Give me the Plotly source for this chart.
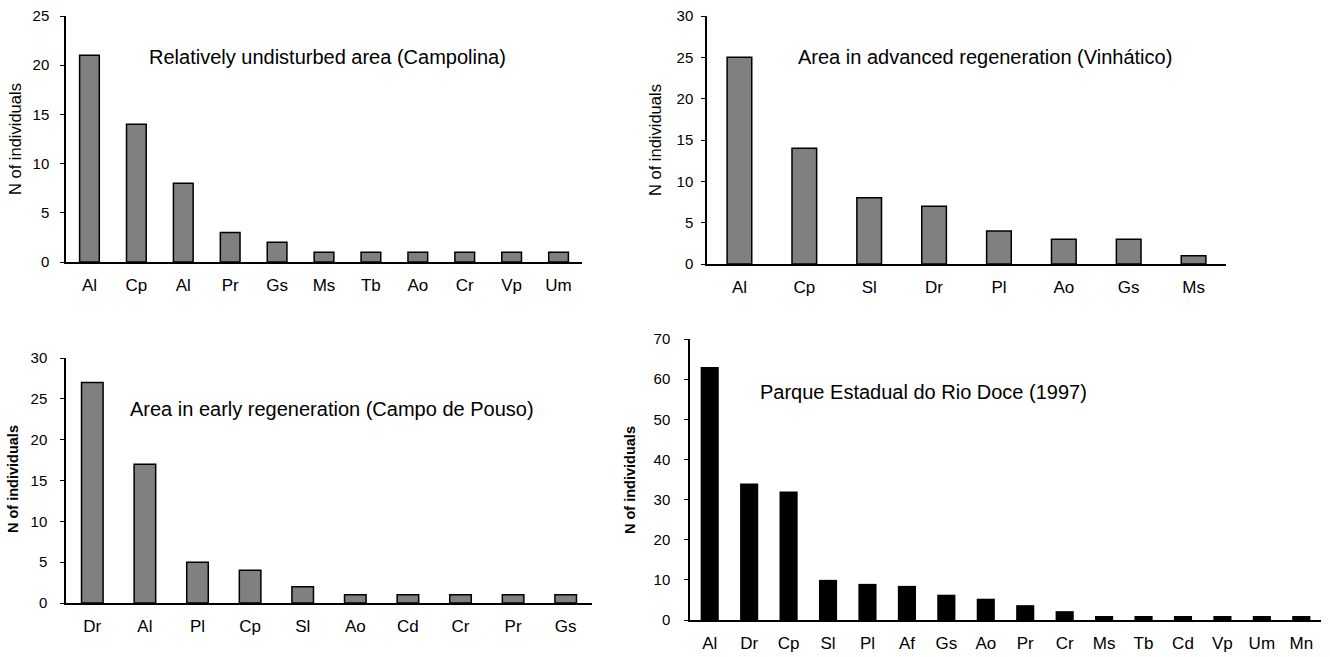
import plotly.graph_objects as go

# ---------------- data ----------------
p1_title = "Relatively undisturbed area (Campolina)"
p1_cats = ["Al", "Cp", "Al", "Pr", "Gs", "Ms", "Tb", "Ao", "Cr", "Vp", "Um"]
p1_vals = [21, 14, 8, 3, 2, 1, 1, 1, 1, 1, 1]

p2_title = "Area in advanced regeneration (Vinhático)"
p2_cats = ["Al", "Cp", "Sl", "Dr", "Pl", "Ao", "Gs", "Ms"]
p2_vals = [25, 14, 8, 7, 4, 3, 3, 1]

p3_title = "Area in early regeneration (Campo de Pouso)"
p3_cats = ["Dr", "Al", "Pl", "Cp", "Sl", "Ao", "Cd", "Cr", "Pr", "Gs"]
p3_vals = [27, 17, 5, 4, 2, 1, 1, 1, 1, 1]

p4_title = "Parque Estadual do Rio Doce (1997)"
p4_cats = ["Al", "Dr", "Cp", "Sl", "Pl", "Af", "Gs", "Ao", "Pr", "Cr", "Ms", "Tb", "Cd", "Vp", "Um", "Mn"]
p4_vals = [63, 34, 32, 10, 9, 8.5, 6.3, 5.3, 3.7, 2.2, 1, 1, 1, 1, 1, 1]

y_label = "N of individuals"

# ---------------- layout helpers ----------------
W, H = 1330, 657
def px(x):
    return x / W
def py(y):
    return 1 - y / H

NARROW = "Liberation Sans Narrow, Arial Narrow, Liberation Sans, Arial, sans-serif"
SANS = "Liberation Sans, Arial, sans-serif"

panels = [
    dict(c=p1_cats, v=p1_vals, t=p1_title, xs=(66, 582), ys=(16, 262), ymax=25, dt=5,
         col="#808080", w=0.42, tc=(327, 57), lc=(15, 139), bold=False, so=8),
    dict(c=p2_cats, v=p2_vals, t=p2_title, xs=(707, 1226), ys=(16, 264), ymax=30, dt=5,
         col="#808080", w=0.38, tc=(985, 57), lc=(655, 140), bold=False, so=5),
    dict(c=p3_cats, v=p3_vals, t=p3_title, xs=(66, 592), ys=(358, 603), ymax=30, dt=5,
         col="#808080", w=0.41, tc=(332, 409), lc=(13, 479), bold=True, so=10),
    dict(c=p4_cats, v=p4_vals, t=p4_title, xs=(690, 1321), ys=(339, 620), ymax=70, dt=10,
         col="#000000", w=0.46, tc=(923, 392), lc=(630, 480), bold=True, so=11),
]

fig = go.Figure()
annotations = []
for i, p in enumerate(panels, start=1):
    xa = "x" if i == 1 else f"x{i}"
    ya = "y" if i == 1 else f"y{i}"
    n = len(p["c"])
    idx = list(range(n))
    fig.add_trace(go.Bar(
        x=idx, y=p["v"], xaxis=xa, yaxis=ya, width=p["w"],
        marker=dict(color=p["col"],
                    line=dict(color="#000000", width=1.5 if p["col"] != "#000000" else 0)),
        showlegend=False, hoverinfo="x+y",
    ))
    xkey = "xaxis" if i == 1 else f"xaxis{i}"
    ykey = "yaxis" if i == 1 else f"yaxis{i}"
    fig.update_layout(**{
        xkey: dict(domain=[px(p["xs"][0]), px(p["xs"][1])], anchor=ya, automargin=False,
                   range=[-0.5, n - 0.5], tickmode="array", tickvals=idx, ticktext=p["c"],
                   showline=True, linecolor="black", linewidth=1.5, ticks="",
                   showgrid=False, zeroline=False, ticklabelstandoff=7,
                   tickfont=dict(family=NARROW, size=17, color="black")),
        ykey: dict(domain=[py(p["ys"][1]), py(p["ys"][0])], anchor=xa, automargin=False,
                   range=[0, p["ymax"]], dtick=p["dt"], tick0=0,
                   showline=True, linecolor="black", linewidth=1.5,
                   ticks="outside", ticklen=4, tickwidth=1.2, tickcolor="black",
                   showgrid=False, zeroline=False, ticklabelstandoff=p["so"],
                   tickfont=dict(family=NARROW, size=15, color="black")),
    })
    annotations.append(dict(
        text=p["t"], xref="paper", yref="paper", x=px(p["tc"][0]), y=py(p["tc"][1]),
        xanchor="center", yanchor="middle", showarrow=False,
        font=dict(family=SANS, size=20, color="black"),
    ))
    lab = f"<b>{y_label}</b>" if p["bold"] else y_label
    annotations.append(dict(
        text=lab, xref="paper", yref="paper", x=px(p["lc"][0]), y=py(p["lc"][1]),
        xanchor="center", yanchor="middle", showarrow=False, textangle=-90,
        font=dict(family=NARROW if p["bold"] else SANS, size=14.5 if p["bold"] else 16.5,
                  color="black"),
    ))

fig.update_layout(
    template="none",
    width=W, height=H, margin=dict(l=0, r=0, t=0, b=0, autoexpand=False),
    paper_bgcolor="white", plot_bgcolor="white",
    annotations=annotations, showlegend=False,
)

fig.write_html("out.html", config={"displayModeBar": False},
               post_script="document.body.style.margin='0';")
